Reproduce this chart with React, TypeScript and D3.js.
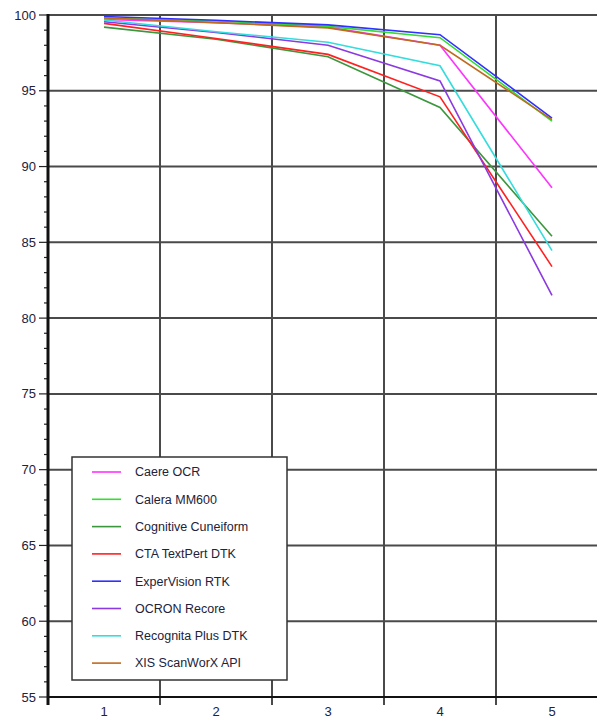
import { useEffect, useRef } from 'react'
import * as d3 from 'd3'

const categories = ['1', '2', '3', '4', '5']
const seriesNames = [
  'Caere OCR',
  'Calera MM600',
  'Cognitive Cuneiform',
  'CTA TextPert DTK',
  'ExperVision RTK',
  'OCRON Recore',
  'Recognita Plus DTK',
  'XIS ScanWorX API',
]
const caere = [99.7, 99.5, 99.2, 98.0, 88.6]
const calera = [99.8, 99.6, 99.25, 98.5, 93.0]
const cognitive = [99.2, 98.4, 97.25, 93.9, 85.4]
const cta = [99.45, 98.45, 97.4, 94.6, 83.4]
const expervision = [99.9, 99.65, 99.35, 98.7, 93.2]
const ocron = [99.55, 98.85, 98.0, 95.65, 81.5]
const recognita = [99.67, 98.9, 98.2, 96.65, 84.45]
const xis = [99.8, 99.5, 99.15, 98.0, 93.1]
const seriesValues = [caere, calera, cognitive, cta, expervision, ocron, recognita, xis]
const seriesColors = ['#ff33ff', '#33dd33', '#3c963c', '#ff2020', '#3030ff', '#8a3ae0', '#33dddd', '#c06a20']
const yTicks = [55, 60, 65, 70, 75, 80, 85, 90, 95, 100]

const W = 597
const H = 720

export default function App() {
  const svgRef = useRef<SVGSVGElement>(null)

  useEffect(() => {
    if (!svgRef.current) return
    const svg = d3.select(svgRef.current)
    svg.selectAll('*').remove()

    const font = '"Liberation Sans", Arial, sans-serif'
    const left = 48
    const top = 15
    const bottom = 697

    const x = d3.scaleBand().domain(categories).range([left, left + 5 * 112])
    const y = d3.scaleLinear().domain([55, 100]).range([bottom, top])

    const g = svg.append('g')

    // horizontal grid
    yTicks.forEach(t => {
      if (t === 55) return
      g.append('line')
        .attr('x1', left).attr('x2', W)
        .attr('y1', y(t)).attr('y2', y(t))
        .attr('stroke', '#4a4a4a').attr('stroke-width', 2)
    })

    // vertical grid at band boundaries, extending below axis as ticks
    categories.forEach(c => {
      const bx = (x(c) ?? 0) + x.bandwidth()
      g.append('line')
        .attr('x1', bx).attr('x2', bx)
        .attr('y1', top).attr('y2', bottom + 8)
        .attr('stroke', '#4a4a4a').attr('stroke-width', 2)
    })

    // y axis minor/major ticks
    d3.range(55, 101).forEach(v => {
      const major = v % 5 === 0
      g.append('line')
        .attr('x1', major ? 39 : 44).attr('x2', left)
        .attr('y1', y(v)).attr('y2', y(v))
        .attr('stroke', '#222').attr('stroke-width', 1.2)
    })

    yTicks.forEach(t => {
      g.append('text')
        .attr('x', 36).attr('y', y(t))
        .attr('dy', '0.35em')
        .attr('text-anchor', 'end')
        .attr('font-family', font).attr('font-size', 13)
        .attr('fill', '#22223a')
        .text(t)
    })

    categories.forEach(c => {
      g.append('text')
        .attr('x', (x(c) ?? 0) + x.bandwidth() / 2)
        .attr('y', 716)
        .attr('text-anchor', 'middle')
        .attr('font-family', font).attr('font-size', 13)
        .attr('fill', '#22223a')
        .text(c)
    })

    // axes
    g.append('line')
      .attr('x1', left).attr('x2', left)
      .attr('y1', top - 1).attr('y2', bottom + 8)
      .attr('stroke', '#111').attr('stroke-width', 3)
    g.append('line')
      .attr('x1', left).attr('x2', W)
      .attr('y1', bottom).attr('y2', bottom)
      .attr('stroke', '#111').attr('stroke-width', 2)

    // series lines
    const line = d3.line<number>()
      .x((_, i) => (x(categories[i]) ?? 0) + x.bandwidth() / 2)
      .y(d => y(d))

    seriesValues.forEach((vals, i) => {
      g.append('path')
        .datum(vals)
        .attr('d', line)
        .attr('fill', 'none')
        .attr('stroke', seriesColors[i])
        .attr('stroke-width', 1.6)
    })

    // legend
    const lg = g.append('g').attr('transform', 'translate(72, 457)')
    lg.append('rect')
      .attr('x', 0).attr('y', 0)
      .attr('width', 215).attr('height', 223)
      .attr('fill', '#fff')
      .attr('stroke', '#333').attr('stroke-width', 1.5)
    seriesNames.forEach((name, i) => {
      const ry = 15 + i * 27.3
      lg.append('line')
        .attr('x1', 20).attr('x2', 49)
        .attr('y1', ry).attr('y2', ry)
        .attr('stroke', seriesColors[i]).attr('stroke-width', 1.6)
      lg.append('text')
        .attr('x', 63).attr('y', ry)
        .attr('dy', '0.35em')
        .attr('font-family', font).attr('font-size', 12.5)
        .attr('fill', '#22223a')
        .text(name)
    })
  }, [])

  return (
    <svg
      ref={svgRef}
      width={W}
      height={H}
      style={{ position: 'absolute', left: 0, top: 0, background: '#fff' }}
    />
  )
}
